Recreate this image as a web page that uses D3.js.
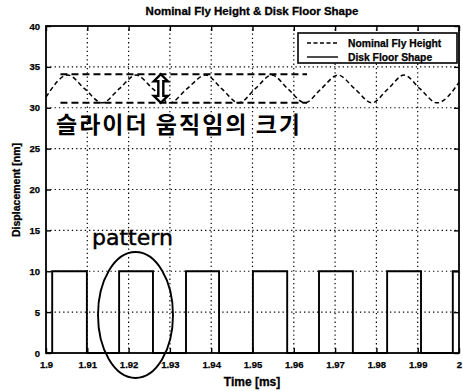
<!DOCTYPE html>
<html>
<head>
<meta charset="utf-8">
<script src="https://cdn.jsdelivr.net/npm/d3@7"></script>
<style>
  html, body { margin: 0; padding: 0; background: #fff; }
  svg { display: block; }
  text { fill: #000; }
</style>
</head>
<body>
<svg id="chart" width="463" height="391"></svg>
<script>
// ---- data ----
const timeTicks = [1.9, 1.91, 1.92, 1.93, 1.94, 1.95, 1.96, 1.97, 1.98, 1.99, 2.0];
const timeTickLabels = ["1.9", "1.91", "1.92", "1.93", "1.94", "1.95", "1.96", "1.97", "1.98", "1.99", "2"];
const dispTicks = [0, 5, 10, 15, 20, 25, 30, 35, 40];

// Nominal fly height (nm) over time (ms)
const flyTime = [1.9, 1.9053, 1.9094, 1.9136, 1.9177, 1.9218, 1.9259, 1.9300, 1.9341,
                 1.9387, 1.9426, 1.9467, 1.9506, 1.9547, 1.9586, 1.9627, 1.9666,
                 1.9707, 1.9748, 1.9789, 1.9828, 1.9867, 1.9906, 1.9947, 2.0];
const flyHeight = [31.3, 34.0, 32.3, 30.6, 32.3, 34.0, 32.3, 30.6, 32.3,
                   34.0, 32.3, 30.6, 32.3, 34.0, 32.3, 30.6, 32.3,
                   34.0, 32.3, 30.6, 32.3, 34.0, 32.3, 30.6, 33.1];

// Disk floor shape: level changes (step after each edge)
const floorEdges = [1.9, 1.9015, 1.9099, 1.9177, 1.9259, 1.9339, 1.9419, 1.9501, 1.9584,
                    1.9661, 1.9743, 1.9826, 1.9908, 1.9985, 2.0];
const floorLevels = [0, 10, 0, 10, 0, 10, 0, 10, 0, 10, 0, 10, 0, 10, 10];

// Slider motion amplitude markers
const ampLevels = [34.1, 30.6];
const ampSpan = [1.9035, 1.9632];
const ampArrowTime = 1.9278;

const seriesNames = ["Nominal Fly Height", "Disk Floor Shape"];

// ---- layout ----
const svg = d3.select("#chart");
const margin = { left: 46, right: 4, top: 26, bottom: 38 };
const W = 463, H = 391;
const x = d3.scaleLinear().domain([1.9, 2.0]).range([margin.left, W - margin.right]);
const y = d3.scaleLinear().domain([0, 40]).range([H - margin.bottom, margin.top]);
const boldFont = "'Liberation Sans', Arial, sans-serif";

// grid (dotted)
const grid = svg.append("g").attr("stroke", "#000").attr("stroke-width", 1.2)
  .attr("stroke-dasharray", "1.3,3");
grid.selectAll("line.v").data(timeTicks.slice(1, -1)).join("line")
  .attr("x1", d => x(d)).attr("x2", d => x(d))
  .attr("y1", y(0)).attr("y2", y(40));
grid.selectAll("line.h").data(dispTicks.slice(1, -1)).join("line")
  .attr("x1", x(1.9)).attr("x2", x(2.0))
  .attr("y1", d => y(d)).attr("y2", d => y(d));

// axes with inward ticks
const xb = svg.append("g").attr("transform", `translate(0,${y(0)})`)
  .call(d3.axisBottom(x).tickValues(timeTicks).tickFormat(d => timeTickLabels[timeTicks.indexOf(d)])
    .tickSizeInner(-5).tickSizeOuter(0).tickPadding(8));
const xt = svg.append("g").attr("transform", `translate(0,${y(40)})`)
  .call(d3.axisTop(x).tickValues(timeTicks).tickFormat("").tickSizeInner(-5).tickSizeOuter(0));
const yl = svg.append("g").attr("transform", `translate(${x(1.9)},0)`)
  .call(d3.axisLeft(y).tickValues(dispTicks).tickSizeInner(-5).tickSizeOuter(0).tickPadding(6));
const yr = svg.append("g").attr("transform", `translate(${x(2.0)},0)`)
  .call(d3.axisRight(y).tickValues(dispTicks).tickFormat("").tickSizeInner(-5).tickSizeOuter(0));
[xb, xt, yl, yr].forEach(g => {
  g.select(".domain").remove();
  g.selectAll("line").attr("stroke", "#000").attr("stroke-width", 1.4);
  g.selectAll("text").attr("font-family", boldFont).attr("font-weight", "bold")
    .attr("font-size", 9.5).attr("fill", "#000")
    .attr("stroke", "#000").attr("stroke-width", 0.25);
});

// frame
svg.append("rect")
  .attr("x", x(1.9)).attr("y", y(40))
  .attr("width", x(2.0) - x(1.9)).attr("height", y(0) - y(40))
  .attr("fill", "none").attr("stroke", "#000").attr("stroke-width", 1.8);

// disk floor shape
const floorPts = floorEdges.map((t, i) => [t, floorLevels[i]]);
svg.append("path")
  .attr("d", d3.line().x(d => x(d[0])).y(d => y(d[1])).curve(d3.curveStepAfter)(floorPts))
  .attr("fill", "none").attr("stroke", "#000").attr("stroke-width", 1.9);

// nominal fly height
const flyPts = flyTime.map((t, i) => [t, flyHeight[i]]);
svg.append("path")
  .attr("d", d3.line().x(d => x(d[0])).y(d => y(d[1])).curve(d3.curveMonotoneX)(flyPts))
  .attr("fill", "none").attr("stroke", "#000").attr("stroke-width", 1.5)
  .attr("stroke-dasharray", "4.5,3");

// amplitude markers
svg.append("g").selectAll("line").data(ampLevels).join("line")
  .attr("x1", x(ampSpan[0])).attr("x2", x(ampSpan[1]))
  .attr("y1", d => y(d)).attr("y2", d => y(d))
  .attr("stroke", "#000").attr("stroke-width", 2).attr("stroke-dasharray", "7,4");

// hollow double-headed arrow between the markers
{
  const ax = x(ampArrowTime), top = y(ampLevels[0]), bot = y(ampLevels[1]);
  const hw = 7, bw = 2.5, hh = 7;
  const p = [
    [ax, top], [ax + hw, top + hh], [ax + bw, top + hh], [ax + bw, bot - hh],
    [ax + hw, bot - hh], [ax, bot], [ax - hw, bot - hh], [ax - bw, bot - hh],
    [ax - bw, top + hh], [ax - hw, top + hh]
  ];
  svg.append("path").attr("d", "M" + p.map(d => d.join(",")).join("L") + "Z")
    .attr("fill", "#fff").attr("stroke", "#000").attr("stroke-width", 2.4)
    .attr("stroke-linejoin", "miter");
}

// annotation text
svg.append("text").attr("x", 56).attr("y", 133)
  .attr("font-family", "'Noto Sans CJK KR', sans-serif").attr("font-size", 23)
  .attr("font-weight", 700)
  .attr("textLength", 244).attr("lengthAdjust", "spacing")
  .text("슬라이더 움직임의 크기");

svg.append("text").attr("x", 92).attr("y", 245)
  .attr("font-family", "'DejaVu Sans', sans-serif").attr("font-size", 22)
  .attr("stroke", "#000").attr("stroke-width", 0.5)
  .text("pattern");

// ellipse around one pattern period
svg.append("ellipse")
  .attr("cx", 135.5).attr("cy", 315).attr("rx", 37.5).attr("ry", 63)
  .attr("fill", "none").attr("stroke", "#000").attr("stroke-width", 1.9);

// legend
{
  const lg = svg.append("g").attr("transform", "translate(298,33)");
  lg.append("rect").attr("width", 159).attr("height", 30)
    .attr("fill", "#fff").attr("stroke", "#000").attr("stroke-width", 1.6);
  const rows = lg.selectAll("g").data(seriesNames).join("g")
    .attr("transform", (d, i) => `translate(0,${10 + i * 14})`);
  rows.append("line").attr("x1", 9).attr("x2", 40)
    .attr("stroke", "#000").attr("stroke-width", 1.4)
    .attr("stroke-dasharray", (d, i) => i === 0 ? "4,2.5" : null);
  rows.append("text").attr("x", 50).attr("y", 3.8)
    .attr("font-family", boldFont).attr("font-weight", "bold").attr("font-size", 10.3)
    .attr("stroke", "#000").attr("stroke-width", 0.25)
    .text(d => d);
}

// title and axis labels
svg.append("text").attr("x", 252).attr("y", 15).attr("text-anchor", "middle")
  .attr("font-family", boldFont).attr("font-weight", "bold").attr("font-size", 11.5)
  .attr("stroke", "#000").attr("stroke-width", 0.3)
  .text("Nominal Fly Height & Disk Floor Shape");
svg.append("text").attr("x", 252).attr("y", 386).attr("text-anchor", "middle")
  .attr("font-family", boldFont).attr("font-weight", "bold").attr("font-size", 12)
  .attr("stroke", "#000").attr("stroke-width", 0.3)
  .text("Time [ms]");
svg.append("text").attr("transform", "translate(20,190) rotate(-90)")
  .attr("text-anchor", "middle")
  .attr("font-family", boldFont).attr("font-weight", "bold").attr("font-size", 10.5)
  .attr("stroke", "#000").attr("stroke-width", 0.3)
  .text("Displacement [nm]");
</script>
</body>
</html>
